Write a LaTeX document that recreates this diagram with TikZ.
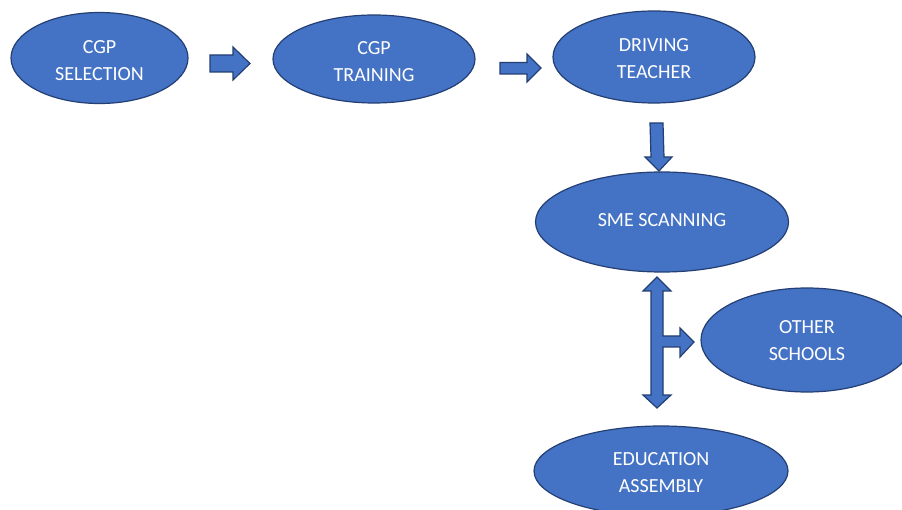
\documentclass[tikz,border=0pt]{standalone}
\usepackage{fontspec}
\setmainfont{Carlito}
\usetikzlibrary{shapes.geometric}
\definecolor{boxblue}{HTML}{4472C4}
\definecolor{edgeblue}{HTML}{243F74}
\begin{document}
\begin{tikzpicture}[x=1pt,y=-1pt,
  stage/.style={ellipse,draw=edgeblue,fill=boxblue,line width=1.2pt,inner sep=0pt},
  stagetext/.style={text=white,align=center,inner sep=0pt,
    font=\fontsize{20}{27}\selectfont},
  blockarrow/.style={draw=edgeblue,fill=boxblue,line width=1.2pt,line join=miter}]
\useasboundingbox (0,0) rectangle (902,510);
\clip (0,0) rectangle (902,510);
\fill[white] (0,0) rectangle (902,510);

% stages
\node[stage,minimum width=177pt,minimum height=91pt] (sel) at (99.5,58) {};
\node[stage,minimum width=202pt,minimum height=88pt] (train) at (374,59) {};
\node[stage,minimum width=202pt,minimum height=92pt] (drive) at (654,57) {};
\node[stage,minimum width=253pt,minimum height=100pt] (sme) at (662,222) {};
\node[stage,minimum width=212pt,minimum height=104pt] (other) at (807,340) {};
\node[stage,minimum width=254pt,minimum height=90pt] (edu) at (661,471) {};

% stage labels
\node[stagetext] (selt)   at ([yshift=-3pt]sel.center)   {CGP\\SELECTION};
\node[stagetext] (traint) at ([yshift=-3pt]train.center) {CGP\\TRAINING};
\node[stagetext] (drivet) at ([yshift=-2pt]drive.center) {DRIVING\\TEACHER};
\node[stagetext] (smet)   at ([yshift=2pt]sme.center)    {SME SCANNING};
\node[stagetext] (othert) at ([yshift=-1pt]other.center) {OTHER\\SCHOOLS};
\node[stagetext] (edut)   at ([yshift=-2pt]edu.center)   {EDUCATION\\ASSEMBLY};

% block arrows between stages
\draw[blockarrow] (210,55) -- (233,55) -- (233,47) -- (250,63.5) -- (233,80)
  -- (233,72) -- (210,72) -- cycle;
\draw[blockarrow] (500,62.5) -- (527,62.5) -- (527,54) -- (541,68) -- (527,82)
  -- (527,74) -- (500,74) -- cycle;
\draw[blockarrow] (650,123) -- (663,123) -- (664,157) -- (672,157) -- (659,171)
  -- (645,157) -- (651,157) -- cycle;

% two-way arrow with side branch
\draw[blockarrow] (657,277) -- (671,291) -- (663,291) -- (663,336) -- (680,336)
  -- (680,328) -- (694,342) -- (680,357) -- (680,347) -- (663,347) -- (663,395)
  -- (671,395) -- (657,408) -- (643,395) -- (651,395) -- (651,291) -- (643,291)
  -- cycle;
\end{tikzpicture}
\end{document}
